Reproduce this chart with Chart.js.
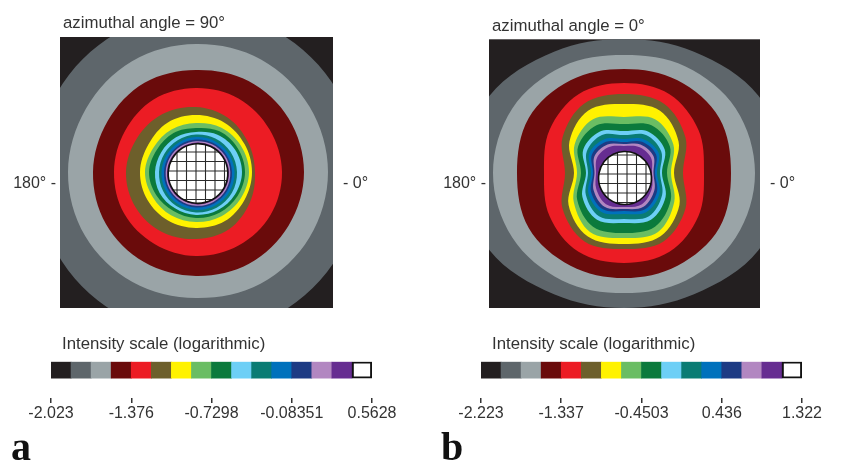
<!DOCTYPE html>
<html>
<head>
<meta charset="utf-8">
<title>Intensity maps</title>
<script src="https://cdn.jsdelivr.net/npm/chart.js@4.4.1/dist/chart.umd.min.js"></script>
<style>
  html, body { margin: 0; padding: 0; background: #fff; }
  #page { position: relative; width: 846px; height: 464px; overflow: hidden; font-family: "Liberation Sans", Arial, sans-serif; color: #333; }
  canvas { position: absolute; z-index: 1; }
  .txt { position: absolute; z-index: 2; white-space: nowrap; }
  .side { font-size: 16px; line-height: 16px; }
  .title { font-size: 16.8px; line-height: 17px; }
  .panel { font: bold 40px "Liberation Serif", "Times New Roman", serif; line-height: 40px; color: #111; }
</style>
</head>
<body>
<div id="page">
  <canvas id="barA" width="420" height="100" style="left:0;top:340px"></canvas>
  <canvas id="barB" width="426" height="100" style="left:420px;top:340px"></canvas>
  <canvas id="mapA" width="420" height="420" style="left:-20px;top:-50px"></canvas>
  <canvas id="mapB" width="446" height="420" style="left:400px;top:-50px"></canvas>

  <div class="txt title" style="left:63px;top:14px">azimuthal angle = 90°</div>
  <div class="txt title" style="left:492px;top:17px">azimuthal angle = 0°</div>

  <div class="txt side" style="left:0;width:56px;text-align:right;top:175px">180° -</div>
  <div class="txt side" style="left:343px;top:175px">- 0°</div>
  <div class="txt side" style="left:400px;width:86px;text-align:right;top:175px">180° -</div>
  <div class="txt side" style="left:770px;top:175px">- 0°</div>

  <div class="txt title" style="left:62px;top:335px">Intensity scale (logarithmic)</div>
  <div class="txt title" style="left:492px;top:335px">Intensity scale (logarithmic)</div>

  <div class="txt panel" style="left:11px;top:427px">a</div>
  <div class="txt panel" style="left:441px;top:427px">b</div>
</div>

<script>
// 16 intensity levels, lowest first (same order as the colour bar)
const levelNames = ['l1', 'l2', 'l3', 'l4', 'l5', 'l6', 'l7', 'l8', 'l9', 'l10', 'l11', 'l12', 'l13', 'l14', 'l15', 'l16'];
const levelColors = ['#231f20', '#5e666b', '#9aa4a7', '#6a0b0b', '#ec1c24', '#6d5f2b', '#fff200', '#6abd63',
                     '#0b7a3c', '#6dcff6', '#0a7c74', '#0071bc', '#1d3b84', '#b287c1', '#662d91', '#ffffff'];
const boxSize = [1, 1, 1, 1, 1, 1, 1, 1, 1, 1, 1, 1, 1, 1, 1, 1];

const ticksA = [-2.023, -1.376, -0.7298, -0.08351, 0.5628];
const tickLabelsA = ['-2.023', '-1.376', '-0.7298', '-0.08351', '0.5628'];
const ticksB = [-2.223, -1.337, -0.4503, 0.436, 1.322];
const tickLabelsB = ['-2.223', '-1.337', '-0.4503', '0.436', '1.322'];

// contour directions, clockwise from the top of each map
const angles = ['0°', '30°', '60°', '90°', '120°', '150°', '180°', '210°', '240°', '270°', '300°', '330°'];

// outer edge of each level (levels 2..16), distance from the map centre
const ringsA = [
  [160, 162, 163, 164, 165, 164, 164, 162, 161, 160, 160, 160],   // dark gray
  [128, 130, 131, 132, 131, 129, 126, 127, 128, 128, 127, 128],   // gray
  [102, 105, 107, 108, 107, 106, 104, 104, 104, 103, 102, 103],   // dark red
  [84, 85, 85, 86, 86, 85, 84, 83, 83, 82, 82, 84],               // red
  [65, 63, 60, 59, 62, 66, 67, 69, 70, 70, 68, 67],               // olive
  [57, 57, 56, 56, 56, 57, 56, 56, 56, 56, 55, 57],               // yellow
  [49, 51, 52, 53, 52, 51, 50, 50, 50, 51, 49, 49],               // light green
  [44, 47, 48, 49, 48, 47, 46, 45, 46, 47, 45, 45],               // green
  [40, 43, 45, 46, 45, 44, 43, 42, 42, 41, 40, 40],               // light blue
  [37.5, 38.7, 40, 41, 41.5, 41.3, 40.5, 39.3, 38, 37, 36.5, 36.7], // teal
  [35, 36.2, 37.5, 38.5, 39, 38.8, 38, 36.8, 35.5, 34.5, 34, 34.2], // blue
  [32.5, 33.7, 35, 36, 36.5, 36.3, 35.5, 34.3, 33, 32, 31.5, 31.7], // navy
  [30.8, 32, 33.3, 34.3, 34.8, 34.6, 33.8, 32.6, 31.3, 30.3, 29.8, 30], // lavender
  [29.5, 30.7, 32, 33, 33.5, 33.3, 32.5, 31.3, 30, 29, 28.5, 28.7], // purple
  [28.3, 29.5, 30.8, 31.8, 32.3, 32.1, 31.3, 30.1, 28.8, 27.8, 27.3, 27.5] // white (no data)
];

const ringsB = [
  [134, 140, 155, 165, 155, 140, 135, 140, 155, 165, 155, 140],   // dark gray
  [118, 123, 129, 131, 129, 124, 120, 124, 129, 131, 129, 123],   // gray
  [104, 107, 110, 107, 110, 107, 105, 107, 110, 107, 110, 107],   // dark red
  [90, 91, 86, 80, 86, 91, 90, 91, 86, 80, 86, 91],               // red
  [79, 80, 71, 59, 71, 79, 76, 79, 71, 59, 71, 80],               // olive
  [69, 72, 63, 50, 64, 73, 71, 73, 64, 50, 63, 72],               // yellow
  [56, 62, 57, 47, 58, 68, 65, 68, 58, 47, 57, 62],               // light green
  [49, 55, 53, 43, 54, 62, 60, 62, 54, 43, 53, 55],               // green
  [42, 48, 47, 38, 48, 54, 50, 54, 48, 38, 47, 48],               // light blue
  [38, 44, 43, 36, 44, 50, 46, 50, 44, 36, 43, 44],               // teal
  [34, 39, 40, 33, 41, 45, 41, 45, 41, 33, 40, 39],               // blue
  [31, 36, 37, 31, 38, 42, 38, 42, 38, 31, 37, 36],               // navy
  [29, 33, 34, 29.5, 35, 39, 36, 39, 35, 29.5, 34, 33],           // lavender
  [27, 30, 31, 28, 32, 36, 34, 36, 32, 28, 31, 30],               // purple
  [21.5, 22.5, 24.4, 27, 29.6, 31.3, 31.5, 30.1, 27.7, 25, 22.9, 21.6] // white (no data)
];

Chart.defaults.font.family = '"Liberation Sans", Arial, sans-serif';
Chart.defaults.color = '#333';

// black map box; after the datasets are laid out, each level is filled inside
// its contour line (outermost first), the blank centre gets its grid hatching,
// and everything outside the box is trimmed away.
// The tiny extra square in each fill path sits outside the box (it is trimmed);
// it keeps the renderer off its single-contour fast path, which overfilled
// the largest contour here.
const mapPlugin = {
  id: 'mapDecor',
  beforeDraw(chart, args, opts) {
    const { ctx, chartArea: a } = chart;
    ctx.save();
    ctx.fillStyle = opts.background;
    ctx.fillRect(a.left, a.top, a.right - a.left, a.bottom - a.top);
    ctx.restore();
  },
  afterDatasetsDraw(chart, args, opts) {
    const { ctx, chartArea: a, width, height } = chart;
    const metas = chart.getSortedVisibleDatasetMetas();

    for (let i = metas.length - 1; i >= 0; i--) {
      const ring = metas[i].dataset;
      ring._pointsUpdated = false;
      ring.updateControlPoints(a, 'r');
      ctx.save();
      ctx.beginPath();
      ring.path(ctx);
      ctx.closePath();
      ctx.rect(2, 2, 2, 2);
      ctx.fillStyle = ring.options.backgroundColor;
      ctx.fill('nonzero');
      ctx.restore();
    }

    const line = chart.getDatasetMeta(0).dataset;
    const r = chart.scales.r;
    ctx.save();
    ctx.beginPath();
    line.path(ctx);
    ctx.closePath();
    ctx.clip();
    ctx.strokeStyle = '#2a2a2a';
    ctx.lineWidth = 1.1;
    ctx.beginPath();
    for (let k = -6; k <= 6; k++) {
      const x = r.xCenter + opts.dx + k * opts.step;
      const y = r.yCenter + opts.dy + k * opts.step;
      ctx.moveTo(x, r.yCenter - 60);
      ctx.lineTo(x, r.yCenter + 60);
      ctx.moveTo(r.xCenter - 60, y);
      ctx.lineTo(r.xCenter + 60, y);
    }
    ctx.stroke();
    ctx.restore();

    ctx.save();
    ctx.beginPath();
    line.path(ctx);
    ctx.closePath();
    ctx.strokeStyle = '#111';
    ctx.lineWidth = 1.6;
    ctx.stroke();
    ctx.restore();

    ctx.clearRect(0, 0, width, a.top);
    ctx.clearRect(0, a.bottom, width, height - a.bottom);
    ctx.clearRect(0, a.top, a.left, a.bottom - a.top);
    ctx.clearRect(a.right, a.top, width - a.right, a.bottom - a.top);
  }
};

function makeMap(id, rings, maxR, padding, grid) {
  const datasets = rings.map((radii, i) => ({
    label: levelNames[i + 1],
    data: radii,
    backgroundColor: levelColors[i + 1],
    borderWidth: 0,
    fill: false,
    clip: false
  })).reverse();

  new Chart(document.getElementById(id), {
    type: 'radar',
    data: { labels: angles, datasets: datasets },
    options: {
      responsive: false,
      animation: false,
      events: [],
      layout: { padding: padding },
      elements: {
        line: { tension: 0.35, capBezierPoints: false },
        point: { radius: 0, hitRadius: 0 }
      },
      scales: {
        r: {
          min: 0,
          max: maxR,
          ticks: { display: false },
          grid: { display: false },
          angleLines: { display: false },
          pointLabels: { display: false }
        }
      },
      plugins: {
        legend: { display: false },
        tooltip: { enabled: false },
        mapDecor: { background: levelColors[0], step: 9.5, dx: grid.dx, dy: grid.dy }
      }
    },
    plugins: [mapPlugin]
  });
}

function makeColorBar(id, ticks, tickLabels, padding) {
  new Chart(document.getElementById(id), {
    type: 'bar',
    data: {
      labels: levelNames,
      datasets: [{
        data: boxSize,
        backgroundColor: levelColors,
        borderColor: '#111',
        borderWidth: levelColors.map((c, i) => (i === levelColors.length - 1 ? 2.2 : 0)),
        borderSkipped: false,
        barPercentage: 1,
        categoryPercentage: 1
      }]
    },
    options: {
      responsive: false,
      animation: false,
      events: [],
      layout: { padding: padding },
      scales: {
        x: { display: false, offset: true },
        y: { display: false, min: -1.19, max: 1 },
        v: {
          type: 'linear',
          axis: 'x',
          position: 'bottom',
          offset: false,
          min: ticks[0],
          max: ticks[ticks.length - 1],
          afterBuildTicks: (s) => { s.ticks = ticks.map(v => ({ value: v })); },
          afterFit: (s) => { s.height = 30; },
          border: { display: false },
          grid: { offset: false, drawOnChartArea: false, tickLength: 5, color: '#333', lineWidth: 1.5 },
          ticks: {
            padding: 1,
            color: '#333',
            autoSkip: false,
            maxRotation: 0,
            font: { size: 16 },
            callback: (v, i) => tickLabels[i]
          }
        }
      },
      plugins: { legend: { display: false }, tooltip: { enabled: false } }
    }
  });
}

// map boxes sit at (60,37)-(333,308) and (489,39)-(760,308) on the page
makeMap('mapA', ringsA, 135, { left: 80, right: 67, top: 87, bottom: 62 }, { dx: 0, dy: -1 });
makeMap('mapB', ringsB, 134, { left: 89, right: 86, top: 89.3, bottom: 62 }, { dx: 3, dy: 1 });

makeColorBar('barA', ticksA, tickLabelsA, { left: 51, right: 48, top: 21.7, bottom: 12 });
makeColorBar('barB', ticksB, tickLabelsB, { left: 61, right: 44, top: 21.7, bottom: 12 });
</script>
</body>
</html>
